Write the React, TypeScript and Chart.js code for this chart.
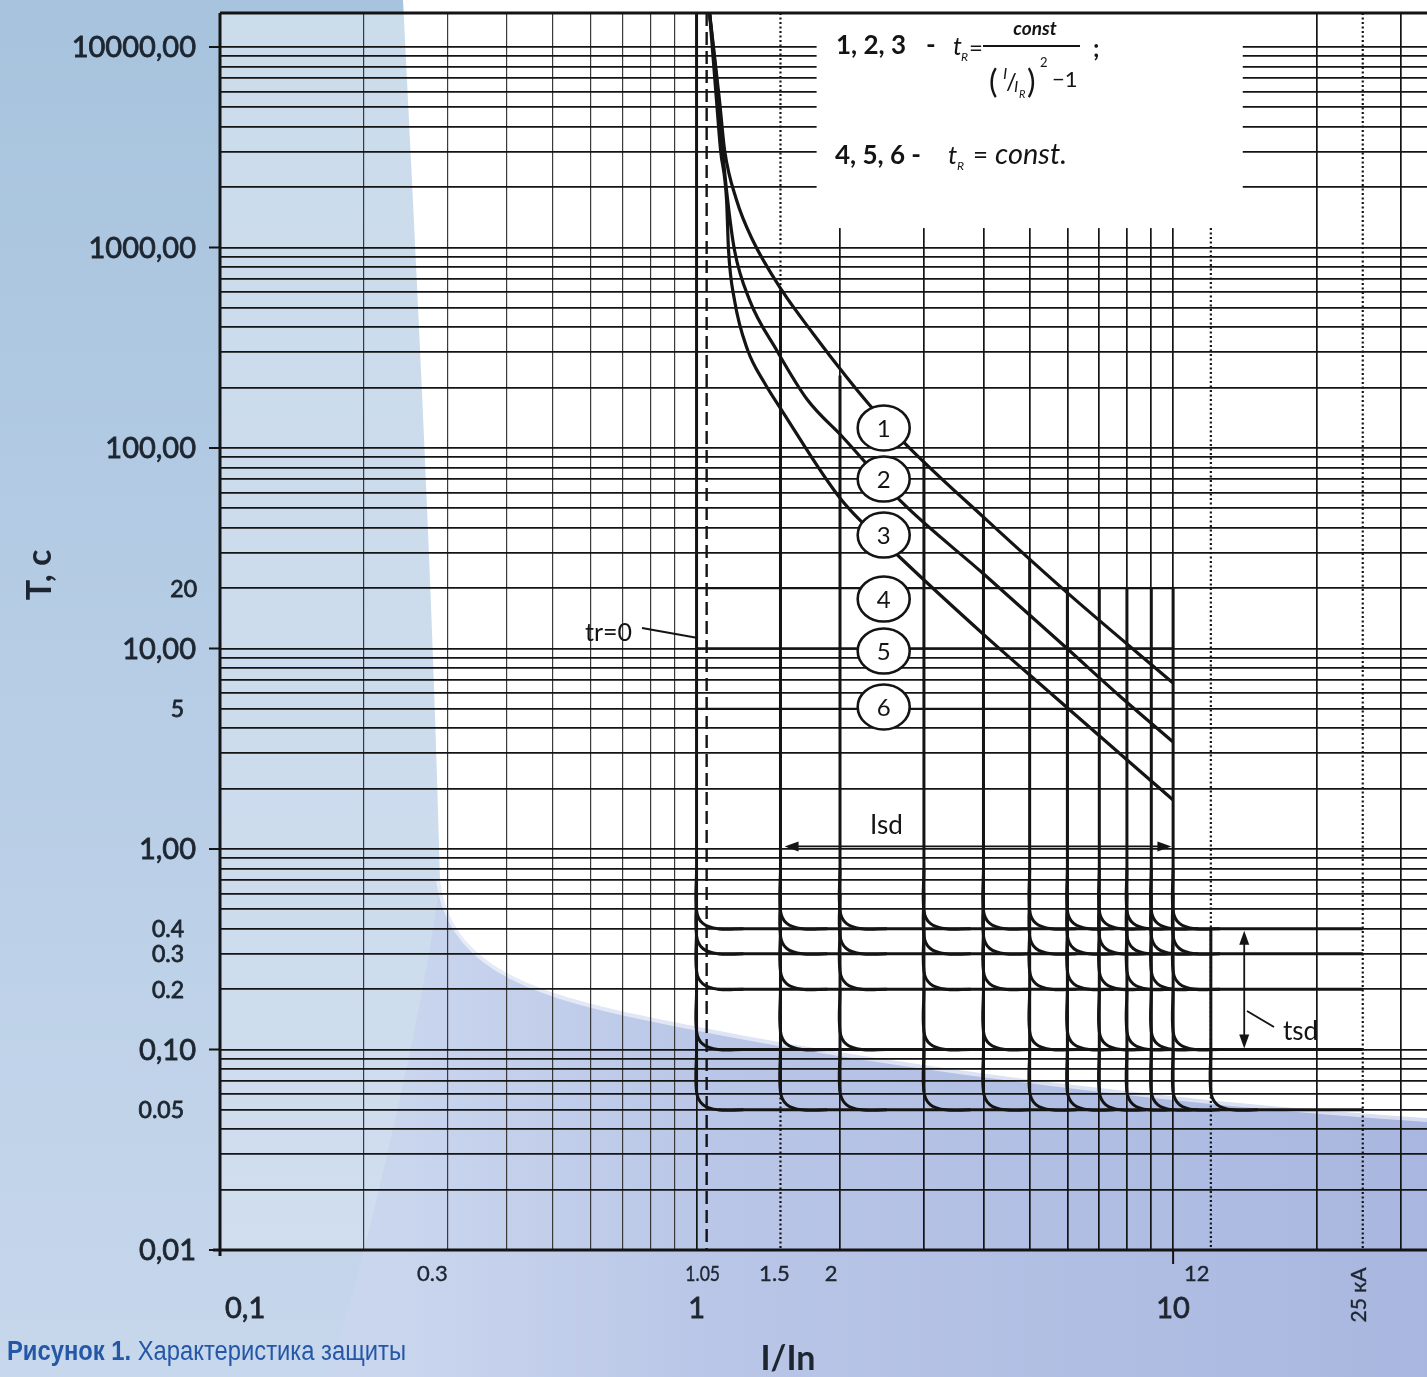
import React, { useEffect, useRef } from "react";
import { Chart, registerables } from "chart.js";

Chart.register(...registerables);

// ===== Axis ranges =====
const X_MIN = 0.1;
const X_MAX = 34.1;
const Y_MIN = 0.01;
const Y_MAX = 14780;

// ===== Grid =====
const GRID_MANTISSAS = [1, 2, 3, 4, 5, 6, 7, 8, 9];
const X_GRID_DECADES = [0.1, 1, 10];
const Y_GRID_DECADES = [0.01, 0.1, 1, 10, 100, 1000];
const Y_GRID_TOP = [10000];

// ===== Tick labels =====
const yLabelValues = [10000, 1000, 100, 20, 10, 5, 1, 0.4, 0.3, 0.2, 0.1, 0.05, 0.01];
const yLabelTexts = ["10000,00", "1000,00", "100,00", "20", "10,00", "5", "1,00", "0.4", "0.3", "0.2", "0,10", "0.05", "0,01"];
const yMajorTicks = [10000, 1000, 100, 10, 1, 0.1, 0.01];
const xMajorValues = [0.1, 1, 10];
const xMajorTexts = ["0,1", "1", "10"];
const xMinorValues = [0.3, 1.05, 1.5, 2, 12];
const xMinorTexts = ["0.3", "1.05", "1.5", "2", "12"];
const kaValue = 25;
const kaText = "25 кА";

// ===== Long-time curves 1..3 (I/In, T s) =====
const curve1I = [1.065, 1.117, 1.145, 1.213, 1.311, 1.508, 1.752, 2.064, 2.307, 2.759, 4.06, 5.976, 10];
const curve1T = [14780, 5445, 3064, 1726, 1090, 614, 375, 226, 164, 103.5, 43.8, 19.1, 6.73];
const curve2I = [1.065, 1.112, 1.134, 1.162, 1.201, 1.292, 1.472, 1.71, 2.025, 2.706, 3.983, 5.976, 7.724, 10];
const curve2T = [14780, 5445, 3064, 1726, 972, 547, 308, 173.5, 113.5, 53.2, 23.8, 10.06, 5.8, 3.42];
const curve3I = [1.065, 1.101, 1.123, 1.156, 1.167, 1.201, 1.28, 1.389, 1.508, 2.015, 2.667, 4.06, 5.375, 10];
const curve3T = [14780, 5445, 3064, 1726, 972, 547, 308, 211, 154.7, 55.0, 28.6, 11.4, 6.35, 1.756];

// ===== Curves 4..6 (tR = const) =====
const constCurveT = [20, 10, 5];
const constCurveI = [1, 10];

// ===== Short-time pickup (Isd) and delays (tsd) =====
const isdI = [1, 1.5, 2, 3, 4, 5, 6, 7, 8, 9, 10];
const isdTopT = [14780, 614, 230, 86, 45, 27.6, 20, 20, 20, 20, 20];
const tsdLevels = [0.4, 0.3, 0.2, 0.1, 0.05];
const iiI = 12;
const iiTopT = 0.4;
const plateauEndI = 25;

// ===== Reference lines =====
const trZeroI = 1.05;
const dottedFullI = [1.5, 25];
const dottedLowI = [12];
const dottedLowTopT = 1250;

// ===== Curve tags =====
const tagTexts = ["1", "2", "3", "4", "5", "6"];
const tagI = 2.47;
const tagT = [125.9, 70.0, 36.8, 17.66, 9.72, 5.11];

// ===== Arrows =====
const isdArrowI = [1.53, 9.92];
const isdArrowT = 1.03;
const tsdArrowI = 14.1;
const tsdArrowT = [0.4, 0.1];

// ===== Formula box extents (data space) =====
const boxI = [1.786, 14.0];
const boxBottomT = 1250;

// corner shape factors (style)
const CORNER_LEAD = 2.0;
const CORNER_DROP = 1.23;
const CORNER_BEND_X = 1.031;
const CORNER_BEND_Y = 1.063;
const CORNER_RUN = 1.11;
const CORNER_TAIL = 1.13;

const INK = "#141414";
const LABEL_INK = "#1d2630";
const BLUE = "#2457a6";

function pts(xs: number[], ys: number[]) {
  return xs.map((x, i) => ({ x, y: ys[i] }));
}

function corner(I: number, L: number) {
  return [
    { x: I, y: L * CORNER_LEAD },
    { x: I, y: L * CORNER_DROP },
    { x: I * CORNER_BEND_X, y: L * CORNER_BEND_Y },
    { x: I * CORNER_RUN, y: L },
    { x: I * CORNER_RUN * CORNER_TAIL, y: L },
  ];
}

function arrowHead(ctx: CanvasRenderingContext2D, x: number, y: number, dx: number, dy: number, len: number, half: number) {
  const nx = -dy, ny = dx;
  ctx.beginPath();
  ctx.moveTo(x, y);
  ctx.lineTo(x - dx * len + nx * half, y - dy * len + ny * half);
  ctx.lineTo(x - dx * len - nx * half, y - dy * len - ny * half);
  ctx.closePath();
  ctx.fill();
}

const bgPlugin = {
  id: "bgPlugin",
  beforeDraw(chart: any) {
    const { ctx, width, height, chartArea } = chart;
    ctx.save();
    let g = ctx.createLinearGradient(0, 0, 0, height);
    g.addColorStop(0, "#a7c3dd");
    g.addColorStop(0.55, "#b8cee6");
    g.addColorStop(1, "#c7d7ec");
    ctx.fillStyle = g;
    ctx.fillRect(0, 0, width, height);

    // lighter band inside plot (left)
    const ov = ctx.createLinearGradient(0, chartArea.top, 0, chartArea.bottom);
    ov.addColorStop(0, "rgba(255,255,255,0.42)");
    ov.addColorStop(1, "rgba(255,255,255,0.2)");
    ctx.fillStyle = ov;
    ctx.fillRect(chartArea.left, chartArea.top, chartArea.right - chartArea.left, chartArea.bottom - chartArea.top);

    // periwinkle lower swoosh
    ctx.beginPath();
    ctx.moveTo(440, 880);
    ctx.bezierCurveTo(450, 960, 520, 990, 640, 1015);
    ctx.bezierCurveTo(850, 1060, 1150, 1100, 1427, 1118);
    ctx.lineTo(1427, 1377);
    ctx.lineTo(330, 1377);
    ctx.bezierCurveTo(380, 1200, 425, 1000, 440, 880);
    ctx.closePath();
    const pg = ctx.createLinearGradient(400, 0, 1427, 0);
    pg.addColorStop(0, "#cad6ee");
    pg.addColorStop(0.3, "#b9c6e7");
    pg.addColorStop(1, "#a9b7e0");
    ctx.fillStyle = pg;
    ctx.fill();

    // white region
    ctx.beginPath();
    ctx.moveTo(403, 0);
    ctx.lineTo(1427, 0);
    ctx.lineTo(1427, 1118);
    ctx.bezierCurveTo(1150, 1100, 850, 1060, 640, 1015);
    ctx.bezierCurveTo(520, 990, 450, 960, 440, 880);
    ctx.bezierCurveTo(433, 600, 418, 300, 403, 0);
    ctx.closePath();
    ctx.fillStyle = "#ffffff";
    ctx.fill();

    // soft fringe along the swoosh edge
    ctx.save();
    ctx.beginPath();
    ctx.moveTo(1427, 1118);
    ctx.bezierCurveTo(1150, 1100, 850, 1060, 640, 1015);
    ctx.bezierCurveTo(520, 990, 450, 960, 440, 880);
    ctx.strokeStyle = "rgba(255,255,255,0.55)";
    ctx.lineWidth = 8;
    ctx.stroke();
    ctx.restore();
    ctx.restore();
  },
};

const annotPlugin = {
  id: "annotPlugin",
  beforeDatasetsDraw(chart: any) {
    const { ctx, scales } = chart;
    const xs = scales.x, ys = scales.y;
    const l = xs.getPixelForValue(boxI[0]);
    const r = xs.getPixelForValue(boxI[1]);
    const b = ys.getPixelForValue(boxBottomT);
    ctx.save();
    ctx.fillStyle = "#ffffff";
    ctx.fillRect(l, chart.chartArea.top + 1, r - l, b - chart.chartArea.top - 1);

    // formula text
    ctx.fillStyle = INK;
    ctx.textAlign = "left";
    ctx.textBaseline = "alphabetic";
    ctx.font = "bold 26px Lato";
    ctx.fillText("1, 2, 3", 836, 54);
    ctx.fillText("-", 926, 54);
    ctx.font = "italic 25px Lato";
    ctx.fillText("t", 953, 55);
    ctx.font = "italic 12px Lato";
    ctx.fillText("R", 961, 61);
    ctx.font = "24px Lato";
    ctx.fillText("=", 969, 56);
    ctx.fillRect(983, 45, 97, 2);
    ctx.font = "italic bold 19px Lato";
    ctx.textAlign = "center";
    ctx.fillText("const", 1035, 35);
    ctx.textAlign = "left";
    ctx.font = "32px Lato";
    ctx.fillText("(", 989, 93);
    ctx.font = "italic 16px Lato";
    ctx.fillText("I", 1003, 79);
    ctx.font = "24px Lato";
    ctx.fillText("/", 1006, 90);
    ctx.font = "italic 16px Lato";
    ctx.fillText("I", 1014, 92);
    ctx.font = "italic 11px Lato";
    ctx.fillText("R", 1019, 98);
    ctx.font = "32px Lato";
    ctx.fillText(")", 1027, 93);
    ctx.font = "13px Lato";
    ctx.fillText("2", 1040, 67);
    ctx.font = "22px Lato";
    ctx.fillText("\u22121", 1052, 87);
    ctx.font = "bold 24px Lato";
    ctx.fillText(";", 1093, 57);

    ctx.font = "bold 26px Lato";
    ctx.fillText("4, 5, 6 -", 835, 164);
    ctx.font = "italic 26px Lato";
    ctx.fillText("t", 948, 164);
    ctx.font = "italic 12px Lato";
    ctx.fillText("R", 957, 170);
    ctx.font = "26px Lato";
    ctx.fillText("=", 973, 164);
    ctx.font = "italic 29px Lato";
    ctx.fillText("const.", 995, 164);
    ctx.restore();
  },
  afterDatasetsDraw(chart: any) {
    const { ctx, scales, chartArea } = chart;
    const xs = scales.x, ys = scales.y;
    ctx.save();

    // borders
    ctx.strokeStyle = INK;
    ctx.lineWidth = 3;
    ctx.beginPath();
    ctx.moveTo(chartArea.left, chartArea.top);
    ctx.lineTo(chartArea.right, chartArea.top);
    ctx.moveTo(chartArea.left, chartArea.top);
    ctx.lineTo(chartArea.left, chartArea.bottom + 6);
    ctx.moveTo(chartArea.left - 7, chartArea.bottom);
    ctx.lineTo(chartArea.right, chartArea.bottom);
    ctx.stroke();

    // major y ticks
    ctx.lineWidth = 2;
    ctx.beginPath();
    yMajorTicks.forEach((v) => {
      const y = ys.getPixelForValue(v);
      ctx.moveTo(chartArea.left - 11, y);
      ctx.lineTo(chartArea.left, y);
    });
    const x10 = xs.getPixelForValue(10);
    ctx.moveTo(x10, chartArea.bottom);
    ctx.lineTo(x10, chartArea.bottom + 14);
    ctx.stroke();

    // tags (ellipses)
    tagTexts.forEach((t, i) => {
      const cx = xs.getPixelForValue(tagI);
      const cy = ys.getPixelForValue(tagT[i]);
      ctx.beginPath();
      ctx.ellipse(cx, cy, 26, 22.5, 0, 0, Math.PI * 2);
      ctx.fillStyle = "#ffffff";
      ctx.fill();
      ctx.lineWidth = 2.6;
      ctx.strokeStyle = INK;
      ctx.stroke();
      ctx.fillStyle = INK;
      ctx.font = "24px Lato";
      ctx.textAlign = "center";
      ctx.textBaseline = "middle";
      ctx.fillText(t, cx, cy + 1);
    });

    // Isd arrow
    ctx.fillStyle = INK;
    ctx.strokeStyle = INK;
    const ax0 = xs.getPixelForValue(isdArrowI[0]);
    const ax1 = xs.getPixelForValue(isdArrowI[1]);
    const ay = ys.getPixelForValue(isdArrowT);
    ctx.lineWidth = 1.8;
    ctx.beginPath();
    ctx.moveTo(ax0 + 8, ay);
    ctx.lineTo(ax1 - 8, ay);
    ctx.stroke();
    arrowHead(ctx, ax0, ay, -1, 0, 14, 5);
    arrowHead(ctx, ax1, ay, 1, 0, 14, 5);

    // tsd arrow
    const tx = xs.getPixelForValue(tsdArrowI);
    const ty0 = ys.getPixelForValue(tsdArrowT[0]);
    const ty1 = ys.getPixelForValue(tsdArrowT[1]);
    ctx.beginPath();
    ctx.moveTo(tx, ty0 + 8);
    ctx.lineTo(tx, ty1 - 8);
    ctx.stroke();
    arrowHead(ctx, tx, ty0 + 2, 0, -1, 14, 5);
    arrowHead(ctx, tx, ty1 - 1, 0, 1, 14, 5);

    // leaders
    ctx.lineWidth = 2;
    ctx.beginPath();
    ctx.moveTo(1247, 1011);
    ctx.lineTo(1274, 1027);
    ctx.moveTo(642, 628);
    ctx.lineTo(698, 638);
    ctx.stroke();

    // annotation texts
    ctx.font = "26px Lato";
    ctx.textAlign = "left";
    ctx.textBaseline = "alphabetic";
    ctx.fillText("Isd", 870, 834);
    ctx.fillText("tsd", 1283, 1040);
    ctx.font = "25px Lato";
    ctx.fillText("tr=0", 585, 641);
    ctx.restore();
  },
  afterDraw(chart: any) {
    const { ctx, scales } = chart;
    const xs = scales.x, ys = scales.y;
    ctx.save();
    ctx.fillStyle = LABEL_INK;
    ctx.strokeStyle = LABEL_INK;
    ctx.lineWidth = 0.8;
    // y labels
    ctx.textAlign = "right";
    ctx.textBaseline = "middle";
    yLabelValues.forEach((v, i) => {
      const txt = yLabelTexts[i];
      const big = txt.includes(",");
      ctx.font = big ? "29px Lato" : "23px Lato";
      const x = big ? 196 : txt === "20" ? 197 : 184;
      const y = ys.getPixelForValue(v) + 1;
      ctx.fillText(txt, x, y);
      ctx.strokeText(txt, x, y);
    });
    // x labels
    ctx.textBaseline = "alphabetic";
    xMajorValues.forEach((v, i) => {
      const x = xs.getPixelForValue(v);
      ctx.font = "29px Lato";
      if (i === 0) {
        ctx.textAlign = "left";
        ctx.fillText(xMajorTexts[i], x + 5, 1318);
        ctx.strokeText(xMajorTexts[i], x + 5, 1318);
      } else {
        ctx.textAlign = "center";
        ctx.fillText(xMajorTexts[i], x, 1318);
        ctx.strokeText(xMajorTexts[i], x, 1318);
      }
    });
    const minorNudge = [-15, -4, -6, -9, -14];
    ctx.font = "22px Lato";
    ctx.textAlign = "center";
    ctx.lineWidth = 0.4;
    xMinorValues.forEach((v, i) => {
      const x = xs.getPixelForValue(v) + minorNudge[i];
      const txt = xMinorTexts[i];
      ctx.save();
      ctx.translate(x, 1281);
      if (txt === "1.05") ctx.scale(0.8, 1);
      ctx.fillText(txt, 0, 0);
      ctx.strokeText(txt, 0, 0);
      ctx.restore();
    });
    // 25 kA rotated
    ctx.save();
    ctx.translate(xs.getPixelForValue(kaValue) - 4, 1295);
    ctx.rotate(-Math.PI / 2);
    ctx.font = "21px Lato";
    ctx.textAlign = "center";
    ctx.textBaseline = "middle";
    ctx.fillText(kaText, 0, 0);
    ctx.strokeText(kaText, 0, 0);
    ctx.restore();

    // axis titles
    ctx.font = "bold 34px Lato";
    ctx.textAlign = "center";
    ctx.textBaseline = "alphabetic";
    ctx.fillText("I/In", 788, 1370);
    ctx.save();
    ctx.translate(40, 575);
    ctx.rotate(-Math.PI / 2);
    ctx.textBaseline = "middle";
    ctx.fillText("T, c", 0, 0);
    ctx.restore();

    // caption
    const fam = "'Liberation Sans Narrow', 'Liberation Sans', Arial, sans-serif";
    const p1 = "Рисунок 1.";
    const p2 = " Характеристика защиты";
    ctx.font = `bold 27px ${fam}`;
    const w1 = ctx.measureText(p1).width;
    ctx.font = `27px ${fam}`;
    const w2 = ctx.measureText(p2).width;
    const sc = 399 / (w1 + w2);
    ctx.save();
    ctx.translate(7, 1360);
    ctx.scale(sc, 1);
    ctx.fillStyle = BLUE;
    ctx.textAlign = "left";
    ctx.font = `bold 27px ${fam}`;
    ctx.fillText(p1, 0, 0);
    ctx.font = `27px ${fam}`;
    ctx.fillText(p2, w1, 0);
    ctx.restore();
    ctx.restore();
  },
};

export default function App() {
  const ref = useRef<HTMLCanvasElement | null>(null);
  useEffect(() => {
    const canvas = ref.current;
    if (!canvas) return;

    const xGridTicks = X_GRID_DECADES.flatMap((d) => GRID_MANTISSAS.map((m) => +(m * d).toPrecision(3))).filter((v) => v <= X_MAX);
    const yGridTicks = [...Y_GRID_DECADES.flatMap((d) => GRID_MANTISSAS.map((m) => +(m * d).toPrecision(3))), ...Y_GRID_TOP];

    const datasets: any[] = [];
    const add = (data: any[], extra: any = {}) =>
      datasets.push({
        data,
        showLine: true,
        pointRadius: 0,
        pointHoverRadius: 0,
        borderColor: INK,
        borderWidth: 3,
        tension: 0,
        fill: false,
        ...extra,
      });

    // reference lines
    add([{ x: trZeroI, y: Y_MAX }, { x: trZeroI, y: Y_MIN }], { borderWidth: 2.4, borderDash: [13, 6] });
    dottedFullI.forEach((v) => add([{ x: v, y: Y_MAX }, { x: v, y: Y_MIN }], { borderWidth: 2.2, borderDash: [2, 2.5] }));
    dottedLowI.forEach((v) => add([{ x: v, y: dottedLowTopT }, { x: v, y: Y_MIN }], { borderWidth: 2.2, borderDash: [2, 2.5] }));

    // curves 4..6
    constCurveT.forEach((t) => add([{ x: constCurveI[0], y: t }, { x: constCurveI[1], y: t }], { borderWidth: 2.4 }));

    // plateaus
    tsdLevels.forEach((L) => add([{ x: isdI[0] * CORNER_RUN, y: L }, { x: plateauEndI, y: L }], { borderWidth: 3 }));

    // Isd verticals + rounded corners
    const lowest = tsdLevels[tsdLevels.length - 1];
    isdI.forEach((I, k) => {
      add([{ x: I, y: isdTopT[k] }, { x: I, y: lowest * CORNER_DROP }], { borderWidth: 3 });
      tsdLevels.forEach((L) => add(corner(I, L), { borderWidth: 3, tension: 0.4 }));
    });
    add([{ x: iiI, y: iiTopT }, { x: iiI, y: lowest * CORNER_DROP }], { borderWidth: 3 });
    add(corner(iiI, lowest), { borderWidth: 3, tension: 0.4 });

    // curves 1..3
    add(pts(curve1I, curve1T), { borderWidth: 3.2, cubicInterpolationMode: "monotone" });
    add(pts(curve2I, curve2T), { borderWidth: 3.2, cubicInterpolationMode: "monotone" });
    add(pts(curve3I, curve3T), { borderWidth: 3.2, cubicInterpolationMode: "monotone" });

    const chart = new Chart(canvas, {
      type: "scatter",
      data: { datasets },
      options: {
        responsive: false,
        animation: false,
        devicePixelRatio: 1,
        events: [],
        layout: { padding: { left: 220, top: 13, right: 0, bottom: 127 } },
        plugins: { legend: { display: false }, tooltip: { enabled: false } },
        scales: {
          x: {
            type: "logarithmic",
            min: X_MIN,
            max: X_MAX,
            afterBuildTicks: (s: any) => {
              s.ticks = xGridTicks.map((v) => ({ value: v }));
            },
            ticks: { display: false },
            border: { display: false },
            grid: {
              drawTicks: false,
              color: (c: any) => (c.tick && c.tick.value < 1 ? "#3a3a3a" : INK),
              lineWidth: (c: any) => (c.tick && c.tick.value < 1 ? 1.2 : 1.7),
            },
          },
          y: {
            type: "logarithmic",
            min: Y_MIN,
            max: Y_MAX,
            afterBuildTicks: (s: any) => {
              s.ticks = yGridTicks.map((v) => ({ value: v }));
            },
            ticks: { display: false },
            border: { display: false },
            grid: { drawTicks: false, color: INK, lineWidth: 1.8 },
          },
        },
      } as any,
      plugins: [bgPlugin, annotPlugin],
    });
    return () => chart.destroy();
  }, []);

  return (
    <div style={{ position: "absolute", left: 0, top: 0, width: 1427, height: 1377, overflow: "hidden" }}>
      <canvas ref={ref} width={1427} height={1377} style={{ display: "block", width: 1427, height: 1377 }} />
    </div>
  );
}
